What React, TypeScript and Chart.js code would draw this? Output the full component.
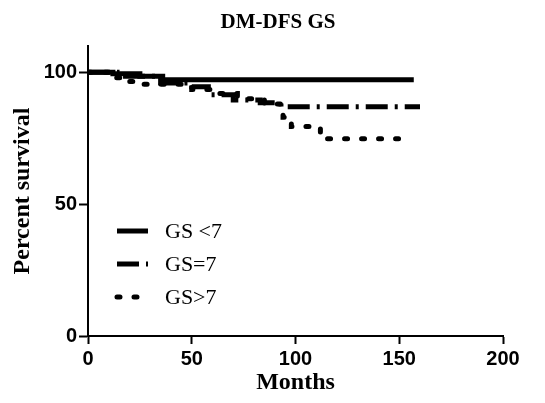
import React, { useEffect, useRef } from "react";
import { Chart, registerables } from "chart.js";

Chart.register(...registerables);

const chartTitle = "DM-DFS GS";
const xAxisTitle = "Months";
const yAxisTitle = "Percent survival";
const seriesNames = ["GS <7", "GS=7", "GS>7"];
const xTicks = [0, 50, 100, 150, 200];
const yTicks = [0, 50, 100];

// Kaplan-Meier step points [months, percent]
const gsLow: [number, number][] = [
  [0, 100], [12, 100], [12, 99.5], [25, 99.5], [25, 98.5], [36, 98.5], [36, 97.2], [157, 97.2],
];
const gsEq: [number, number][] = [
  [0, 100], [14, 100], [14, 98.5], [35, 98.5], [35, 96], [50, 96], [50, 94.5], [58, 94.5],
  [58, 91.5], [70, 91.5], [70, 89.5], [83, 89.5], [83, 88.5], [93, 88.5], [93, 87], [160, 87],
];
const gsHigh: [number, number][] = [
  [0, 100], [10, 100], [10, 98], [20, 98], [20, 96.5], [27, 96.5], [27, 95.5], [50, 95.5],
  [50, 93.5], [60, 93.5], [60, 92], [72, 92], [72, 90], [85, 90], [85, 88], [94, 88],
  [94, 83], [98, 83], [98, 79.5], [112, 79.5], [112, 74.8], [154, 74.8],
];

const dashes: number[][] = [[], [22, 7, 3, 7], [3, 14]];

const legendPlugin = {
  id: "kmLegend",
  afterDraw(chart: any) {
    const ctx = chart.ctx;
    const rows = [231, 264, 297];
    ctx.save();
    chart.data.datasets.forEach((ds: any, i: number) => {
      const y = rows[i];
      ctx.beginPath();
      ctx.setLineDash(dashes[i]);
      ctx.lineWidth = 5;
      ctx.lineCap = i === 2 ? "round" : "butt";
      ctx.strokeStyle = "#000";
      ctx.moveTo(117, y);
      ctx.lineTo(148, y);
      ctx.stroke();
      ctx.setLineDash([]);
      ctx.fillStyle = "#000";
      ctx.font = "22px 'Liberation Serif', serif";
      ctx.textBaseline = "middle";
      ctx.textAlign = "left";
      ctx.fillText(ds.label, 165, y + 1);
    });
    ctx.restore();
  },
};

const titlePlugin = {
  id: "kmTitle",
  afterDraw(chart: any) {
    const ctx = chart.ctx;
    ctx.save();
    ctx.fillStyle = "#000";
    ctx.font = "bold 21px 'Liberation Serif', serif";
    ctx.textAlign = "center";
    ctx.textBaseline = "middle";
    ctx.fillText(chartTitle, 278, 23);
    ctx.restore();
  },
};

export default function App() {
  const ref = useRef<HTMLCanvasElement | null>(null);
  useEffect(() => {
    if (!ref.current) return;
    const series = [gsLow, gsEq, gsHigh];
    const tickFont = { family: "'Liberation Sans', Arial, sans-serif", size: 20, weight: "bold" as const };
    const titleFont = { family: "'Liberation Serif', serif", size: 24, weight: "bold" as const };
    const chart = new Chart(ref.current, {
      type: "line",
      data: {
        datasets: series.map((s, i) => ({
          label: seriesNames[i],
          data: s.map(([x, y]) => ({ x, y })),
          borderColor: "#000",
          borderWidth: 5,
          borderDash: dashes[i],
          borderCapStyle: i === 2 ? "round" : "butt",
          pointRadius: 0,
          fill: false,
          tension: 0,
        })),
      },
      options: {
        animation: false,
        responsive: false,
        maintainAspectRatio: false,
        layout: { padding: { top: 46, right: 42, left: 0, bottom: 0 } },
        plugins: { legend: { display: false }, title: { display: false }, tooltip: { enabled: false } },
        scales: {
          x: {
            type: "linear",
            min: 0,
            max: 200,
            afterFit: (s: any) => { s.height = 67; },
            afterBuildTicks: (s: any) => { s.ticks = xTicks.map((v) => ({ value: v })); },
            grid: { display: true, drawOnChartArea: false, drawTicks: true, tickLength: 8, tickWidth: 2, tickColor: "#000" },
            border: { display: true, color: "#000", width: 2 },
            ticks: { color: "#000", padding: 3, font: tickFont },
            title: { display: true, text: xAxisTitle, color: "#000", padding: { top: 0, bottom: 6 }, font: titleFont },
          },
          y: {
            type: "linear",
            min: 0,
            max: 110,
            afterFit: (s: any) => { s.width = 88; },
            afterBuildTicks: (s: any) => { s.ticks = yTicks.map((v) => ({ value: v })); },
            grid: { display: true, drawOnChartArea: false, drawTicks: true, tickLength: 9, tickWidth: 2, tickColor: "#000" },
            border: { display: true, color: "#000", width: 2 },
            ticks: { color: "#000", padding: 2, font: tickFont },
            title: { display: true, text: yAxisTitle, color: "#000", padding: { top: 8, bottom: 0 }, font: titleFont },
          },
        },
      },
      plugins: [legendPlugin, titlePlugin],
    });
    return () => chart.destroy();
  }, []);
  return (
    <div style={{ margin: -8, width: 545, height: 403, background: "#fff" }}>
      <canvas ref={ref} width={545} height={403} style={{ display: "block", width: 545, height: 403 }} />
    </div>
  );
}
